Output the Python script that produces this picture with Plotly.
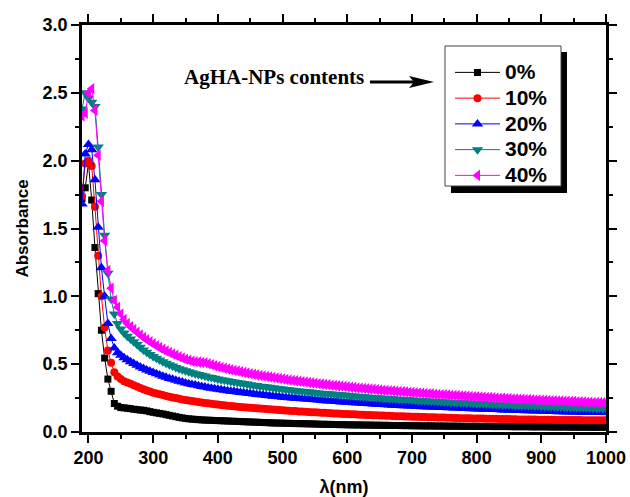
import plotly.graph_objects as go

# Wavelength grid (nm), 5 nm steps
wavelength = list(range(190, 1001, 5))

labels = ["0%", "10%", "20%", "30%", "40%"]

# Absorbance, 0% AgHA-NPs (one row = 50 nm from 300 nm on)
abs_0 = [1.72, 1.80, 1.98, 1.71, 1.36, 1.02, 0.75, 0.545, 0.39, 0.30, 0.21,
         0.19, 0.18, 0.178, 0.175, 0.172, 0.168, 0.165, 0.162, 0.160, 0.156, 0.150,
         0.145, 0.141, 0.137, 0.133, 0.128, 0.123, 0.118, 0.113, 0.108, 0.104,
         0.100, 0.097, 0.095, 0.093, 0.091, 0.089, 0.088, 0.087, 0.086, 0.085,
         0.084, 0.083, 0.082, 0.081, 0.080, 0.079, 0.078, 0.077, 0.076, 0.075,
         0.074, 0.073, 0.072, 0.071, 0.070, 0.069, 0.068, 0.067, 0.066, 0.066,
         0.065, 0.064, 0.064, 0.063, 0.062, 0.062, 0.061, 0.061, 0.060, 0.060,
         0.059, 0.058, 0.057, 0.057, 0.056, 0.056, 0.055, 0.055, 0.054, 0.054,
         0.053, 0.053, 0.052, 0.052, 0.052, 0.051, 0.051, 0.051, 0.050, 0.050,
         0.050, 0.049, 0.049, 0.049, 0.048, 0.048, 0.048, 0.047, 0.047, 0.047,
         0.046, 0.046, 0.046, 0.045, 0.045, 0.045, 0.045, 0.044, 0.044, 0.044,
         0.044, 0.043, 0.043, 0.043, 0.043, 0.042, 0.042, 0.042, 0.042, 0.042,
         0.042, 0.041, 0.041, 0.041, 0.041, 0.040, 0.040, 0.040, 0.040, 0.040,
         0.040, 0.039, 0.039, 0.039, 0.039, 0.039, 0.039, 0.038, 0.038, 0.038,
         0.038, 0.038, 0.038, 0.037, 0.037, 0.037, 0.037, 0.037, 0.037, 0.036,
         0.036, 0.036, 0.036, 0.036, 0.036, 0.035, 0.035, 0.035, 0.035, 0.035,
         0.035]

# Absorbance, 10% AgHA-NPs
abs_10 = [1.74, 1.98, 2.00, 1.96, 1.66, 1.30, 1.00, 0.77, 0.60, 0.51, 0.44,
          0.41, 0.39, 0.375, 0.365, 0.355, 0.345, 0.335, 0.325, 0.315, 0.305, 0.298,
          0.290, 0.284, 0.278, 0.272, 0.266, 0.260, 0.255, 0.250, 0.245, 0.240,
          0.236, 0.232, 0.228, 0.224, 0.221, 0.217, 0.214, 0.211, 0.208, 0.205,
          0.202, 0.199, 0.197, 0.194, 0.192, 0.189, 0.187, 0.185, 0.183, 0.181,
          0.179, 0.177, 0.175, 0.173, 0.171, 0.169, 0.167, 0.165, 0.164, 0.162,
          0.160, 0.158, 0.157, 0.155, 0.154, 0.152, 0.151, 0.149, 0.148, 0.146,
          0.145, 0.143, 0.142, 0.141, 0.140, 0.138, 0.137, 0.136, 0.135, 0.133,
          0.132, 0.131, 0.130, 0.129, 0.128, 0.127, 0.126, 0.125, 0.124, 0.123,
          0.122, 0.121, 0.120, 0.119, 0.118, 0.117, 0.117, 0.116, 0.115, 0.114,
          0.113, 0.112, 0.112, 0.111, 0.110, 0.109, 0.109, 0.108, 0.107, 0.106,
          0.106, 0.105, 0.105, 0.104, 0.103, 0.102, 0.102, 0.101, 0.101, 0.100,
          0.100, 0.099, 0.099, 0.098, 0.098, 0.097, 0.097, 0.096, 0.096, 0.095,
          0.095, 0.094, 0.094, 0.093, 0.093, 0.093, 0.092, 0.092, 0.092, 0.091,
          0.091, 0.091, 0.090, 0.090, 0.090, 0.089, 0.089, 0.089, 0.089, 0.088,
          0.088, 0.088, 0.088, 0.087, 0.087, 0.087, 0.087, 0.086, 0.086, 0.086,
          0.086]

# Absorbance, 20% AgHA-NPs
abs_20 = [1.68, 2.05, 2.12, 2.08, 1.86, 1.51, 1.21, 1.00, 0.80, 0.69, 0.62,
          0.585, 0.565, 0.548, 0.532, 0.518, 0.505, 0.492, 0.480, 0.468, 0.457, 0.447,
          0.438, 0.429, 0.420, 0.411, 0.403, 0.395, 0.388, 0.381, 0.374, 0.368,
          0.362, 0.356, 0.351, 0.346, 0.341, 0.336, 0.332, 0.327, 0.323, 0.319,
          0.315, 0.311, 0.308, 0.304, 0.301, 0.298, 0.295, 0.292, 0.289, 0.286,
          0.283, 0.280, 0.277, 0.275, 0.272, 0.269, 0.267, 0.264, 0.262, 0.259,
          0.257, 0.255, 0.253, 0.251, 0.249, 0.247, 0.245, 0.243, 0.241, 0.239,
          0.237, 0.235, 0.233, 0.231, 0.229, 0.228, 0.226, 0.224, 0.222, 0.221,
          0.219, 0.217, 0.216, 0.214, 0.213, 0.211, 0.210, 0.208, 0.207, 0.205,
          0.204, 0.202, 0.201, 0.199, 0.198, 0.197, 0.196, 0.194, 0.193, 0.192,
          0.191, 0.190, 0.188, 0.187, 0.186, 0.185, 0.184, 0.183, 0.182, 0.181,
          0.180, 0.179, 0.178, 0.177, 0.176, 0.175, 0.174, 0.173, 0.172, 0.171,
          0.170, 0.169, 0.168, 0.167, 0.166, 0.165, 0.165, 0.164, 0.163, 0.162,
          0.161, 0.160, 0.160, 0.159, 0.158, 0.157, 0.157, 0.156, 0.155, 0.155,
          0.154, 0.153, 0.152, 0.152, 0.151, 0.150, 0.150, 0.149, 0.148, 0.148,
          0.147, 0.147, 0.146, 0.146, 0.145, 0.145, 0.144, 0.144, 0.143, 0.143,
          0.142]

# Absorbance, 30% AgHA-NPs
abs_30 = [2.38, 2.50, 2.46, 2.43, 2.40, 2.10, 1.75, 1.45, 1.17, 0.98, 0.87,
          0.80, 0.76, 0.73, 0.705, 0.685, 0.665, 0.645, 0.625, 0.605, 0.588, 0.572,
          0.556, 0.543, 0.530, 0.518, 0.507, 0.496, 0.486, 0.476, 0.467, 0.459,
          0.451, 0.444, 0.437, 0.430, 0.424, 0.418, 0.412, 0.406, 0.401, 0.396,
          0.391, 0.386, 0.382, 0.377, 0.373, 0.369, 0.365, 0.361, 0.357, 0.353,
          0.349, 0.345, 0.342, 0.338, 0.335, 0.332, 0.329, 0.326, 0.323, 0.320,
          0.317, 0.314, 0.311, 0.308, 0.306, 0.303, 0.301, 0.298, 0.296, 0.293,
          0.291, 0.288, 0.286, 0.284, 0.282, 0.280, 0.278, 0.276, 0.274, 0.272,
          0.270, 0.268, 0.266, 0.264, 0.262, 0.260, 0.258, 0.256, 0.255, 0.253,
          0.251, 0.249, 0.248, 0.246, 0.245, 0.243, 0.242, 0.240, 0.239, 0.237,
          0.236, 0.234, 0.233, 0.231, 0.230, 0.228, 0.227, 0.226, 0.225, 0.223,
          0.222, 0.221, 0.220, 0.218, 0.217, 0.216, 0.215, 0.214, 0.213, 0.211,
          0.210, 0.209, 0.208, 0.207, 0.206, 0.205, 0.204, 0.203, 0.202, 0.201,
          0.200, 0.199, 0.198, 0.197, 0.196, 0.195, 0.194, 0.193, 0.192, 0.191,
          0.190, 0.189, 0.188, 0.188, 0.187, 0.186, 0.185, 0.184, 0.183, 0.183,
          0.182, 0.181, 0.180, 0.180, 0.179, 0.178, 0.177, 0.177, 0.176, 0.175,
          0.174]

# Absorbance, 40% AgHA-NPs
abs_40 = [2.33, 2.35, 2.50, 2.53, 2.37, 2.04, 1.70, 1.41, 1.19, 1.06, 0.97,
          0.92, 0.87, 0.83, 0.80, 0.775, 0.755, 0.735, 0.715, 0.697, 0.680, 0.665,
          0.650, 0.636, 0.622, 0.609, 0.597, 0.586, 0.575, 0.565, 0.555, 0.546,
          0.537, 0.529, 0.522, 0.518, 0.515, 0.513, 0.510, 0.503, 0.495, 0.488,
          0.482, 0.476, 0.470, 0.464, 0.459, 0.454, 0.449, 0.444, 0.439, 0.434,
          0.430, 0.425, 0.421, 0.417, 0.413, 0.409, 0.405, 0.401, 0.398, 0.394,
          0.391, 0.387, 0.384, 0.380, 0.377, 0.374, 0.371, 0.368, 0.365, 0.362,
          0.359, 0.356, 0.353, 0.350, 0.348, 0.345, 0.343, 0.340, 0.338, 0.335,
          0.333, 0.330, 0.328, 0.325, 0.323, 0.321, 0.319, 0.317, 0.315, 0.312,
          0.310, 0.308, 0.306, 0.304, 0.302, 0.300, 0.298, 0.296, 0.295, 0.293,
          0.291, 0.289, 0.287, 0.285, 0.284, 0.282, 0.281, 0.279, 0.277, 0.275,
          0.274, 0.272, 0.271, 0.269, 0.268, 0.266, 0.265, 0.263, 0.262, 0.260,
          0.259, 0.257, 0.256, 0.255, 0.254, 0.252, 0.251, 0.249, 0.248, 0.247,
          0.246, 0.244, 0.243, 0.242, 0.241, 0.240, 0.239, 0.237, 0.236, 0.235,
          0.234, 0.233, 0.232, 0.231, 0.230, 0.229, 0.228, 0.227, 0.226, 0.225,
          0.224, 0.223, 0.222, 0.221, 0.220, 0.219, 0.218, 0.217, 0.216, 0.215,
          0.214]

series = [abs_0, abs_10, abs_20, abs_30, abs_40]
colors = ["#000000", "#FF0000", "#0000FF", "#008080", "#FF00FF"]
symbols = ["square", "circle", "triangle-up", "triangle-down", "triangle-left"]
sizes = [7, 8, 10, 10, 10]

SANS = "Liberation Sans"
SERIF = "Liberation Serif"

fig = go.Figure()
for lab, ys, col, sym, sz in zip(labels, series, colors, symbols, sizes):
    fig.add_trace(go.Scatter(
        x=wavelength, y=ys, mode="lines+markers",
        name='<span style="font-size:21px">%s</span>' % lab,
        line=dict(color=col, width=1),
        marker=dict(symbol=sym, size=sz, color=col, line=dict(width=0)),
    ))

# plot area in pixels: x 82..606, y 25..432
L, R, T, B = 82, 606, 25, 432


def fx(p):
    return (p - L) / (R - L)


def fy(p):
    return (B - p) / (B - T)


axis_common = dict(
    automargin=False,
    showline=True, linewidth=2.5, linecolor="black", mirror="allticks",
    ticks="outside", ticklen=8, tickwidth=2, tickcolor="black",
    showgrid=False, zeroline=False,
    tickfont=dict(family=SANS, size=18, color="black", weight="bold"),
    minor=dict(ticks="outside", ticklen=4, tickwidth=2, tickcolor="black", showgrid=False),
)

fig.update_xaxes(
    range=[190, 1000], tickmode="linear", tick0=200, dtick=100,
    title=dict(text="λ(nm)", standoff=14,
               font=dict(family=SANS, size=18, color="black", weight="bold")),
    **axis_common,
)
fig.update_xaxes(minor=dict(dtick=50, tick0=200))
fig.update_yaxes(
    range=[0, 3.0], tickmode="linear", tick0=0, dtick=0.5, tickformat=".1f",
    title=dict(text="Absorbance", standoff=10,
               font=dict(family=SANS, size=17, color="black", weight="bold")),
    **axis_common,
)
fig.update_yaxes(minor=dict(dtick=0.25, tick0=0))

shapes = [
    # legend frame with drop shadow
    dict(type="rect", xref="paper", yref="paper", layer="above",
         x0=fx(451), x1=fx(567), y0=fy(193), y1=fy(52),
         fillcolor="black", line=dict(width=0)),
    dict(type="rect", xref="paper", yref="paper", layer="above",
         x0=fx(445), x1=fx(561), y0=fy(186), y1=fy(46),
         fillcolor="white", line=dict(color="#444444", width=1)),
    # arrow pointing at the legend
    dict(type="line", xref="paper", yref="paper", layer="above",
         xsizemode="pixel", ysizemode="pixel", xanchor=fx(434), yanchor=fy(82),
         x0=-64, x1=-20, y0=0, y1=0, line=dict(color="black", width=3)),
    dict(type="path", xref="paper", yref="paper", layer="above",
         xsizemode="pixel", ysizemode="pixel", xanchor=fx(434), yanchor=fy(82),
         path="M0,0 L-25,6 L-20,0 L-25,-6 Z", fillcolor="black", line=dict(width=0)),
]

fig.update_layout(
    width=630, height=497,
    margin=dict(l=L, r=630 - R, t=T, b=497 - B, autoexpand=False),
    paper_bgcolor="white", plot_bgcolor="white",
    shapes=shapes,
    showlegend=True,
    legend=dict(
        x=fx(450), y=fy(54.5), xanchor="left", yanchor="top",
        bgcolor="rgba(0,0,0,0)", borderwidth=0, itemwidth=45,
        tracegroupgap=0,
        font=dict(family=SANS, size=17.5, color="black", weight="bold"),
    ),
    annotations=[
        dict(text="AgHA-NPs contents", xref="paper", yref="paper",
             x=fx(366), y=fy(77), xanchor="right", yanchor="middle",
             showarrow=False,
             font=dict(family=SERIF, size=21, color="black", weight="bold")),
    ],
)

fig.write_html("out.html")
